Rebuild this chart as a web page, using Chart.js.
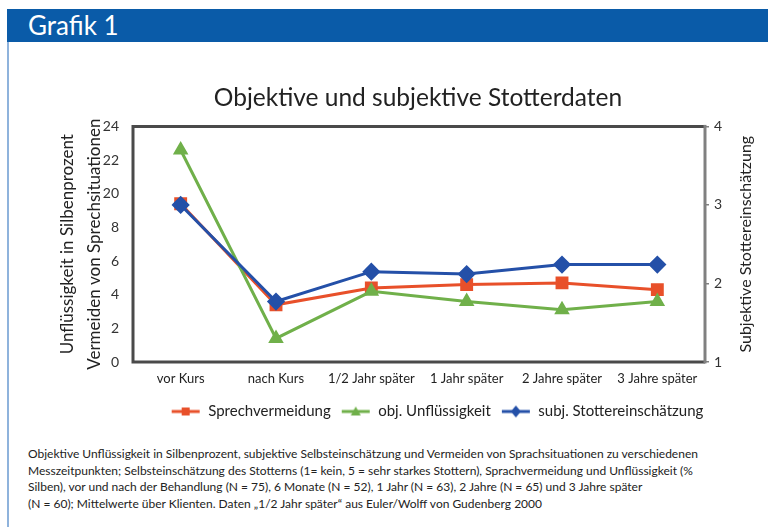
<!DOCTYPE html>
<html>
<head>
<meta charset="utf-8">
<script src="https://cdn.jsdelivr.net/npm/chart.js@4"></script>
<style>
  body { margin: 0; width: 768px; height: 527px; background: #fff; position: relative; overflow: hidden; font-family: Lato, sans-serif; }
  #header { position: absolute; left: 7px; top: 9px; width: 761px; height: 33px; background: #0a5ba8; }
  #header span { position: absolute; left: 21px; top: 1px; color: #fff; font-size: 26px; line-height: 30px; }
  #sideline { position: absolute; left: 7px; top: 42px; width: 2px; height: 485px; background: #8fb3dc; }
  #wrap { position: absolute; left: 8px; top: 45px; width: 760px; height: 390px; }
  #caption { position: absolute; left: 28px; top: 446px; font-size: 12px; line-height: 16.5px; color: #222; white-space: nowrap; }
</style>
</head>
<body>
<div id="header"><span>Grafik 1</span></div>
<div id="sideline"></div>
<div id="wrap"><canvas id="stotterChart" width="760" height="390"></canvas></div>
<div id="caption">
Objektive Unflüssigkeit in Silbenprozent, subjektive Selbsteinschätzung und Vermeiden von Sprachsituationen zu verschiedenen<br>
Messzeitpunkten; Selbsteinschätzung des Stotterns (1= kein, 5 = sehr starkes Stottern), Sprachvermeidung und Unflüssigkeit (%<br>
Silben), vor und nach der Behandlung (N = 75), 6 Monate (N = 52), 1 Jahr (N = 63), 2 Jahre (N = 65) und 3 Jahre später<br>
(N = 60); Mittelwerte über Klienten. Daten „1/2 Jahr später“ aus Euler/Wolff von Gudenberg 2000
</div>
<script>
const zeitpunkte = ['vor Kurs', 'nach Kurs', '1/2 Jahr später', '1 Jahr später', '2 Jahre später', '3 Jahre später'];
// left axis is drawn with evenly spaced labels 0..8, then 20, 22, 24
const linkeTicks = ['0', '2', '4', '6', '8', '20', '22', '24'];
const sprechvermeidung = [9.4, 3.4, 4.4, 4.6, 4.7, 4.3];
const unfluessigkeit = [12.6, 1.4, 4.2, 3.6, 3.1, 3.6];
const stottereinschaetzung = [3.0, 1.77, 2.15, 2.12, 2.24, 2.24];

const rot = '#e8502a';
const gruen = '#70b04a';
const blau = '#2450a8';

function legendIcon(color, style) {
    const c = document.createElement('canvas');
    c.width = 30; c.height = 14;
    const ctx = c.getContext('2d');
    ctx.strokeStyle = color;
    ctx.fillStyle = color;
    ctx.lineWidth = 3;
    ctx.beginPath(); ctx.moveTo(1, 7); ctx.lineTo(29, 7); ctx.stroke();
    ctx.beginPath();
    if (style === 'rect') {
        ctx.rect(11, 3, 8, 8);
    } else if (style === 'triangle') {
        ctx.moveTo(15, 2); ctx.lineTo(20, 11); ctx.lineTo(10, 11); ctx.closePath();
    } else {
        ctx.moveTo(15, 1); ctx.lineTo(20, 7); ctx.lineTo(15, 13); ctx.lineTo(10, 7); ctx.closePath();
    }
    ctx.fill();
    return c;
}
const icons = [legendIcon(rot, 'rect'), legendIcon(gruen, 'triangle'), legendIcon(blau, 'rectRot')];

const framePlugin = {
    id: 'frame',
    beforeDatasetsDraw(chart) {
        const {ctx, chartArea: a} = chart;
        ctx.save();
        ctx.lineWidth = 3;
        ctx.strokeStyle = '#4a4a4a';
        ctx.beginPath();
        ctx.moveTo(a.right, a.top); ctx.lineTo(a.left, a.top);
        ctx.lineTo(a.left, a.bottom); ctx.lineTo(a.right, a.bottom);
        ctx.stroke();
        ctx.strokeStyle = '#808080';
        ctx.beginPath(); ctx.moveTo(a.right, a.top - 1.5); ctx.lineTo(a.right, a.bottom + 1.5); ctx.stroke();
        ctx.restore();
    },
    afterDraw(chart) {
        const {ctx, chartArea: a} = chart;
        ctx.save();
        ctx.translate(738, (a.top + a.bottom) / 2);
        ctx.rotate(-Math.PI / 2);
        ctx.font = '16px Lato';
        ctx.fillStyle = '#222';
        ctx.textAlign = 'center';
        ctx.textBaseline = 'middle';
        ctx.fillText('Subjektive Stottereinschätzung', 0, 0);
        ctx.restore();
    },
    afterLayout(chart) {
        const lg = chart.legend;
        const shift = 429 - (lg.left + lg.right) / 2;
        lg.left += shift;
        lg.right += shift;
        const tb = chart.titleBlock;
        const tshift = 410 - (tb.left + tb.right) / 2;
        tb.left += tshift;
        tb.right += tshift;
    }
};

new Chart(document.getElementById('stotterChart'), {
    type: 'line',
    data: {
        labels: zeitpunkte,
        datasets: [{
            label: 'Sprechvermeidung',
            data: sprechvermeidung,
            yAxisID: 'y',
            borderColor: rot,
            backgroundColor: rot,
            pointStyle: 'rect',
            pointRadius: 7,
            borderWidth: 3,
            order: 2
        }, {
            label: 'obj. Unflüssigkeit',
            data: unfluessigkeit,
            yAxisID: 'y',
            borderColor: gruen,
            backgroundColor: gruen,
            pointStyle: 'triangle',
            pointRadius: 6,
            borderWidth: 3,
            order: 1
        }, {
            label: 'subj. Stottereinschätzung',
            data: stottereinschaetzung,
            yAxisID: 'y2',
            borderColor: blau,
            backgroundColor: blau,
            pointStyle: 'rectRot',
            pointRadius: 7,
            borderWidth: 3,
            order: 0
        }]
    },
    options: {
        responsive: false,
        animation: false,
        layout: { padding: { bottom: 6 } },
        plugins: {
            title: {
                display: true,
                text: 'Objektive und subjektive Stotterdaten',
                color: '#222',
                font: { family: 'Lato', size: 24.5, weight: 'normal', lineHeight: 1.2 },
                padding: { top: 38, bottom: 14 }
            },
            legend: {
                position: 'bottom',
                labels: {
                    usePointStyle: true,
                    pointStyleWidth: 30,
                    padding: 10,
                    color: '#222',
                    font: { family: 'Lato', size: 15 },
                    sort: (a, b) => a.datasetIndex - b.datasetIndex,
                    generateLabels(chart) {
                        const items = Chart.defaults.plugins.legend.labels.generateLabels(chart);
                        items.forEach(it => { it.pointStyle = icons[it.datasetIndex]; });
                        return items;
                    }
                }
            },
            tooltip: { enabled: false }
        },
        scales: {
            x: {
                offset: true,
                grid: { display: false, drawTicks: false },
                border: { display: false },
                ticks: { color: '#222', font: { family: 'Lato', size: 13 }, padding: 9, maxRotation: 0 },
                afterFit(scale) { scale.height = 32; }
            },
            y: {
                position: 'left',
                min: 0,
                max: 14,
                grid: { display: false, drawTicks: false },
                border: { display: false },
                ticks: {
                    stepSize: 2,
                    color: '#333',
                    padding: 14,
                    font: { family: 'Lato', size: 14 },
                    callback: v => linkeTicks[v / 2]
                },
                title: {
                    display: true,
                    text: ['Unflüssigkeit in Silbenprozent', 'Vermeiden von Sprechsituationen'],
                    color: '#222',
                    font: { family: 'Lato', size: 17, lineHeight: 1.6 },
                    padding: { top: 46 }
                },
                afterFit(scale) { scale.width = 125; }
            },
            y2: {
                position: 'right',
                min: 1,
                max: 4,
                grid: { display: true, drawOnChartArea: false, tickLength: 4, color: '#808080', lineWidth: 1.5 },
                border: { display: false },
                ticks: { stepSize: 1, color: '#333', padding: 5, font: { family: 'Lato', size: 14 } },
                afterFit(scale) { scale.width = 63; }
            }
        }
    },
    plugins: [framePlugin]
});
</script>
</body>
</html>
